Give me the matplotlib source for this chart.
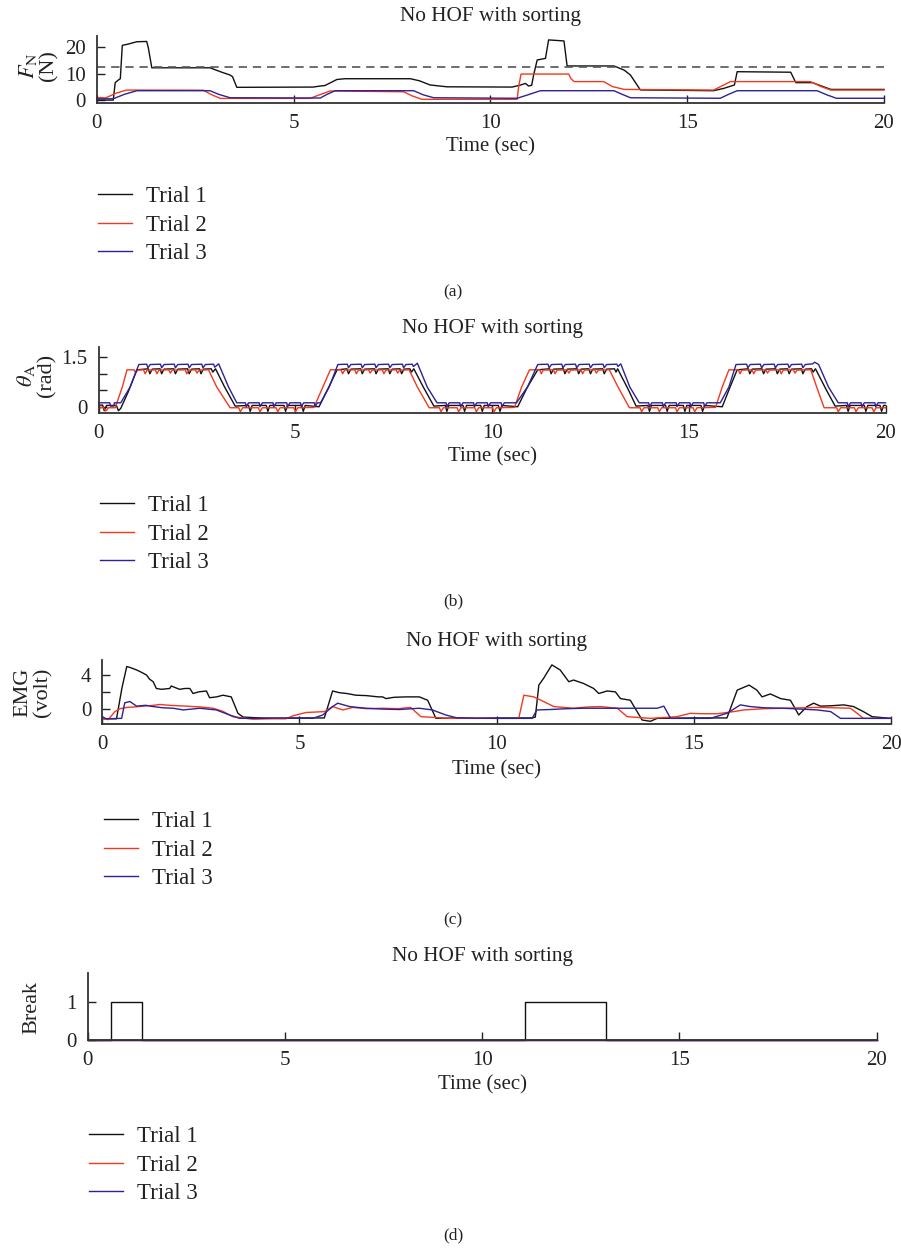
"""Four stacked trial traces (force, angle, EMG, break) for the 'No HOF with sorting' run."""
import matplotlib
matplotlib.use("Agg")
import matplotlib.pyplot as plt
import numpy as np

plt.rcParams["font.family"] = ["Liberation Serif", "DejaVu Serif"]
plt.rcParams["mathtext.fontset"] = "stix"

W, H = 901, 1248

TRIALS = ["Trial 1", "Trial 2", "Trial 3"]
COLORS = ["#111111", "#f2391d", "#2b2296"]
TITLE = "No HOF with sorting"

# ---- (a) normal force, N : (time, value) knots
T1_FORCE = [
    (0.00, -0.2), (0.42, -0.2), (0.47, 6.5), (0.55, 7.5), (0.60, 8.0), (0.65, 20.8), (0.80, 21.3),
    (1.02, 22.2), (1.27, 22.3), (1.31, 20.0), (1.40, 12.2), (2.88, 12.2), (3.14, 10.7), (3.39, 9.4),
    (3.45, 8.8), (3.56, 4.7), (5.50, 4.8), (5.68, 5.2), (5.80, 5.4), (6.10, 7.7), (6.30, 8.0),
    (7.97, 8.0), (8.20, 7.2), (8.47, 5.6), (8.90, 4.9), (10.55, 4.8), (10.75, 5.5), (10.89, 6.2),
    (10.97, 5.2), (11.05, 5.5), (11.10, 9.5), (11.19, 15.2), (11.40, 15.8), (11.48, 22.9),
    (11.87, 22.5), (11.95, 12.9), (13.14, 12.9), (13.40, 11.3), (13.56, 9.4), (13.81, 3.7),
    (15.67, 3.4), (15.93, 4.3), (16.20, 5.6), (16.27, 10.7), (17.63, 10.5), (17.76, 6.5),
    (18.18, 6.5), (18.45, 5.0), (18.65, 3.9), (20.00, 3.9),
]
T2_FORCE = [
    (0.00, 0.6), (0.10, 0.8), (0.20, 0.6), (0.25, 0.8), (0.50, 2.5), (0.76, 3.65), (2.71, 3.6),
    (2.90, 2.0), (3.14, 0.45), (5.42, 0.45), (5.60, 1.5), (5.93, 3.3), (7.80, 3.0), (8.00, 1.5),
    (8.26, 0.1), (10.68, 0.1), (10.72, 5.0), (10.78, 9.8), (11.99, 9.8), (12.05, 8.0), (12.13, 6.9),
    (12.88, 6.9), (13.10, 5.0), (13.40, 3.9), (15.67, 3.65), (15.85, 5.0), (16.10, 6.9),
    (18.13, 6.9), (18.40, 5.0), (18.65, 3.65), (20.00, 3.65),
]
T3_FORCE = [
    (0.00, 0.3), (0.42, 0.3), (0.70, 2.0), (1.02, 3.4), (2.88, 3.4), (3.10, 2.0), (3.39, 0.7),
    (5.68, 0.6), (5.85, 2.0), (6.06, 3.4), (8.05, 3.4), (8.30, 1.8), (8.56, 0.7), (10.68, 0.5),
    (10.95, 1.8), (11.27, 3.4), (13.14, 3.4), (13.35, 2.0), (13.56, 0.7), (15.84, 0.5),
    (16.05, 2.0), (16.27, 3.4), (18.30, 3.4), (18.55, 1.8), (18.79, 0.5), (20.00, 0.5),
]
FORCE_LIMIT = 12.6

# ---- (b) ankle angle, rad
T1_THETA = [
    (0.00, 0.05), (0.10, 0.05), (0.14, -0.12), (0.20, 0.04), (0.45, 0.04), (0.50, -0.12), (0.56, -0.05),
    (0.75, 0.45), (0.97, 1.12),
    (1.26, 1.15), (1.30, 1.00), (1.36, 1.14), (1.56, 1.15), (1.60, 1.00), (1.66, 1.14),
    (1.91, 1.15), (1.95, 1.00), (2.01, 1.14), (2.26, 1.15), (2.30, 1.00), (2.36, 1.14),
    (2.56, 1.15), (2.60, 1.00), (2.66, 1.14), (2.86, 1.15), (2.90, 1.05), (2.97, 1.15),
    (3.20, 0.60), (3.47, 0.02),
    (3.81, 0.04), (3.85, -0.14), (3.90, 0.04), (4.26, 0.04), (4.30, -0.14), (4.35, 0.04),
    (4.71, 0.04), (4.75, -0.14), (4.80, 0.04), (5.16, 0.04), (5.20, -0.14), (5.25, 0.04), (5.60, 0.00),
    (5.85, 0.60), (6.06, 1.12),
    (6.31, 1.15), (6.35, 1.00), (6.41, 1.14), (6.66, 1.15), (6.70, 1.00), (6.76, 1.14),
    (7.01, 1.15), (7.05, 1.00), (7.11, 1.14), (7.36, 1.15), (7.40, 1.00), (7.46, 1.14),
    (7.66, 1.15), (7.70, 1.00), (7.76, 1.14), (7.91, 1.15), (7.95, 1.05), (8.01, 1.15),
    (8.25, 0.60), (8.52, 0.02),
    (8.81, 0.04), (8.85, -0.14), (8.90, 0.04), (9.26, 0.04), (9.30, -0.14), (9.35, 0.04),
    (9.71, 0.04), (9.75, -0.14), (9.80, 0.04), (10.16, 0.04), (10.20, -0.14), (10.25, 0.04), (10.65, 0.00),
    (10.90, 0.60), (11.16, 1.12),
    (11.46, 1.15), (11.50, 1.00), (11.56, 1.14), (11.81, 1.15), (11.85, 1.00), (11.91, 1.14),
    (12.16, 1.15), (12.20, 1.00), (12.26, 1.14), (12.46, 1.15), (12.50, 1.00), (12.56, 1.14),
    (12.81, 1.15), (12.85, 1.00), (12.91, 1.14), (13.11, 1.15), (13.15, 1.05), (13.19, 1.15),
    (13.45, 0.55), (13.66, 0.02),
    (13.96, 0.04), (14.00, -0.14), (14.05, 0.04), (14.41, 0.04), (14.45, -0.14), (14.50, 0.04),
    (14.86, 0.04), (14.90, -0.14), (14.95, 0.04), (15.31, 0.04), (15.35, -0.14), (15.40, 0.04), (15.85, 0.00),
    (16.05, 0.60), (16.23, 1.12),
    (16.51, 1.15), (16.55, 1.00), (16.61, 1.14), (16.86, 1.15), (16.90, 1.00), (16.96, 1.14),
    (17.21, 1.15), (17.25, 1.00), (17.31, 1.14), (17.51, 1.15), (17.55, 1.00), (17.61, 1.14),
    (17.86, 1.15), (17.90, 1.00), (17.96, 1.14), (18.12, 1.15), (18.16, 1.05), (18.22, 1.15),
    (18.50, 0.50), (18.72, 0.02),
    (19.01, 0.04), (19.05, -0.14), (19.10, 0.04), (19.46, 0.04), (19.50, -0.14), (19.55, 0.04),
    (19.86, 0.04), (19.90, -0.14), (19.95, 0.04), (20.00, 0.04),
]
T2_THETA = [
    (0.00, -0.03), (0.12, -0.02), (0.18, -0.13), (0.25, -0.03), (0.42, -0.03),
    (0.60, 0.60), (0.72, 1.12),
    (0.90, 1.12), (0.94, 1.02), (0.99, 1.11), (1.14, 1.12), (1.18, 1.00), (1.23, 1.11),
    (1.44, 1.12), (1.48, 1.00), (1.53, 1.11), (1.78, 1.12), (1.82, 1.02), (1.87, 1.11),
    (2.20, 1.12), (2.24, 1.00), (2.29, 1.11), (2.46, 1.12), (2.50, 1.02), (2.55, 1.11), (2.79, 1.12),
    (3.00, 0.60), (3.34, -0.03),
    (3.56, -0.03), (3.60, -0.15), (3.66, -0.03), (4.06, -0.03), (4.10, -0.15), (4.16, -0.03),
    (4.51, -0.03), (4.55, -0.15), (4.61, -0.03), (4.96, -0.03), (5.00, -0.15), (5.06, -0.03), (5.47, -0.02),
    (5.70, 0.60), (5.89, 1.12),
    (6.16, 1.12), (6.20, 1.00), (6.25, 1.11), (6.51, 1.12), (6.55, 1.00), (6.60, 1.11),
    (6.86, 1.12), (6.90, 1.02), (6.95, 1.11), (7.21, 1.12), (7.25, 1.00), (7.30, 1.11),
    (7.56, 1.12), (7.60, 1.02), (7.65, 1.11), (7.89, 1.12),
    (8.10, 0.60), (8.40, -0.03),
    (8.66, -0.03), (8.70, -0.15), (8.76, -0.03), (9.11, -0.03), (9.15, -0.15), (9.21, -0.03),
    (9.56, -0.03), (9.60, -0.15), (9.66, -0.03), (10.01, -0.03), (10.05, -0.15), (10.11, -0.03), (10.57, -0.02),
    (10.75, 0.60), (10.95, 1.12),
    (11.21, 1.12), (11.25, 1.00), (11.30, 1.11), (11.56, 1.12), (11.60, 1.00), (11.65, 1.11),
    (11.91, 1.12), (11.95, 1.02), (12.00, 1.11), (12.26, 1.12), (12.30, 1.00), (12.35, 1.11),
    (12.61, 1.12), (12.65, 1.02), (12.70, 1.11), (12.98, 1.12),
    (13.20, 0.60), (13.49, -0.03),
    (13.76, -0.03), (13.80, -0.15), (13.86, -0.03), (14.21, -0.03), (14.25, -0.15), (14.31, -0.03),
    (14.66, -0.03), (14.70, -0.15), (14.76, -0.03), (15.11, -0.03), (15.15, -0.15), (15.21, -0.03), (15.68, -0.02),
    (15.85, 0.60), (16.02, 1.12),
    (16.26, 1.12), (16.30, 1.00), (16.35, 1.11), (16.61, 1.12), (16.65, 1.00), (16.70, 1.11),
    (16.96, 1.12), (17.00, 1.02), (17.05, 1.11), (17.31, 1.12), (17.35, 1.00), (17.40, 1.11),
    (17.66, 1.12), (17.70, 1.02), (17.75, 1.11), (18.10, 1.12),
    (18.25, 0.60), (18.44, -0.03),
    (18.76, -0.03), (18.80, -0.15), (18.86, -0.03), (19.21, -0.03), (19.25, -0.15), (19.31, -0.03),
    (19.66, -0.03), (19.70, -0.15), (19.76, -0.03), (20.00, -0.03),
]
T3_THETA = [
    (0.00, 0.12), (0.28, 0.12), (0.30, 0.02), (0.38, 0.02), (0.40, 0.12), (0.56, 0.12),
    (0.80, 0.60), (1.02, 1.28),
    (1.22, 1.29), (1.25, 1.18), (1.31, 1.28), (1.57, 1.29), (1.60, 1.18), (1.66, 1.28),
    (1.92, 1.29), (1.95, 1.18), (2.01, 1.28), (2.27, 1.29), (2.30, 1.18), (2.36, 1.28),
    (2.62, 1.29), (2.65, 1.18), (2.71, 1.28), (2.92, 1.29), (2.95, 1.20), (3.05, 1.30),
    (3.30, 0.60), (3.51, 0.12),
    (3.73, 0.12), (3.75, 0.00), (3.81, 0.12), (4.08, 0.12), (4.10, 0.00), (4.16, 0.12),
    (4.43, 0.12), (4.45, 0.00), (4.51, 0.12), (4.78, 0.12), (4.80, 0.00), (4.86, 0.12),
    (5.13, 0.12), (5.15, 0.00), (5.21, 0.12), (5.48, 0.12), (5.50, 0.00), (5.56, 0.12), (5.64, 0.12),
    (5.86, 0.60), (6.08, 1.28),
    (6.32, 1.29), (6.35, 1.18), (6.41, 1.28), (6.67, 1.29), (6.70, 1.18), (6.76, 1.28),
    (7.02, 1.29), (7.05, 1.18), (7.11, 1.28), (7.37, 1.29), (7.40, 1.18), (7.46, 1.28),
    (7.72, 1.29), (7.75, 1.18), (7.81, 1.28), (7.97, 1.29), (8.00, 1.22), (8.10, 1.32),
    (8.35, 0.60), (8.60, 0.12),
    (8.83, 0.12), (8.85, 0.00), (8.91, 0.12), (9.18, 0.12), (9.20, 0.00), (9.26, 0.12),
    (9.53, 0.12), (9.55, 0.00), (9.61, 0.12), (9.88, 0.12), (9.90, 0.00), (9.96, 0.12),
    (10.23, 0.12), (10.25, 0.00), (10.31, 0.12), (10.62, 0.12),
    (10.90, 0.60), (11.16, 1.28),
    (11.42, 1.29), (11.45, 1.18), (11.51, 1.28), (11.77, 1.29), (11.80, 1.18), (11.86, 1.28),
    (12.12, 1.29), (12.15, 1.18), (12.21, 1.28), (12.47, 1.29), (12.50, 1.18), (12.56, 1.28),
    (12.82, 1.29), (12.85, 1.18), (12.91, 1.28), (13.17, 1.29), (13.20, 1.22), (13.27, 1.30),
    (13.50, 0.60), (13.74, 0.12),
    (13.98, 0.12), (14.00, 0.00), (14.06, 0.12), (14.33, 0.12), (14.35, 0.00), (14.41, 0.12),
    (14.68, 0.12), (14.70, 0.00), (14.76, 0.12), (15.03, 0.12), (15.05, 0.00), (15.11, 0.12),
    (15.38, 0.12), (15.40, 0.00), (15.46, 0.12), (15.80, 0.12),
    (16.02, 0.60), (16.20, 1.28),
    (16.47, 1.29), (16.50, 1.18), (16.56, 1.28), (16.82, 1.29), (16.85, 1.18), (16.91, 1.28),
    (17.17, 1.29), (17.20, 1.18), (17.26, 1.28), (17.52, 1.29), (17.55, 1.18), (17.61, 1.28),
    (17.87, 1.29), (17.90, 1.18), (17.96, 1.28), (18.15, 1.30), (18.20, 1.35), (18.30, 1.28),
    (18.55, 0.60), (18.80, 0.12),
    (19.03, 0.12), (19.05, 0.00), (19.11, 0.12), (19.38, 0.12), (19.40, 0.00), (19.46, 0.12),
    (19.73, 0.12), (19.75, 0.00), (19.81, 0.12), (20.00, 0.12),
]

# ---- (c) EMG, volt
T1_EMG = [
    (0.00, -1.2), (0.36, -1.2), (0.50, 2.5), (0.62, 5.0), (0.70, 4.9), (0.87, 4.6), (1.00, 4.3),
    (1.12, 4.0), (1.20, 3.5), (1.29, 3.2), (1.37, 2.4), (1.50, 2.3), (1.71, 2.4), (1.75, 2.7),
    (1.85, 2.5), (1.96, 2.3), (2.10, 2.4), (2.22, 2.4), (2.30, 1.8), (2.45, 2.0), (2.64, 2.1),
    (2.72, 1.3), (2.90, 1.4), (3.06, 1.6), (3.27, 1.4), (3.44, -0.55), (3.57, -1.0), (4.00, -1.1),
    (4.50, -1.15), (5.00, -1.1), (5.63, -1.1), (5.84, 2.1), (6.01, 1.9), (6.20, 1.8), (6.43, 1.6),
    (6.70, 1.55), (7.00, 1.4), (7.11, 1.4), (7.19, 1.2), (7.40, 1.35), (7.70, 1.4), (8.04, 1.4),
    (8.25, 1.0), (8.46, -1.15), (9.00, -1.1), (9.50, -1.15), (10.00, -1.1), (10.90, -1.1),
    (10.98, -1.0), (11.07, 2.8), (11.19, 3.6), (11.40, 5.2), (11.61, 4.6), (11.83, 3.2),
    (11.95, 3.4), (12.20, 3.0), (12.46, 2.4), (12.59, 1.8), (12.80, 2.1), (13.01, 2.0),
    (13.14, 1.2), (13.39, 1.0), (13.69, -1.35), (13.90, -1.5), (14.07, -1.15), (15.00, -1.1),
    (15.84, -1.1), (16.10, 2.2), (16.40, 2.8), (16.60, 2.2), (16.73, 1.4), (16.94, 1.75),
    (17.20, 1.2), (17.45, 1.0), (17.66, -0.75), (17.87, 0.25), (18.04, 0.65), (18.21, 0.3),
    (18.50, 0.35), (18.80, 0.45), (19.05, 0.25), (19.30, -0.35), (19.52, -0.95), (20.00, -1.15),
]
T2_EMG = [
    (0.00, -1.15), (0.15, -1.3), (0.32, -0.35), (0.45, 0.0), (0.62, 0.15), (0.80, 0.2), (1.04, 0.3),
    (1.30, 0.4), (1.46, 0.5), (1.70, 0.4), (2.13, 0.3), (2.50, 0.2), (2.81, 0.05), (3.05, -0.3),
    (3.31, -0.95), (3.82, -1.25), (4.30, -1.2), (4.66, -1.2), (4.83, -0.85), (5.17, -0.45),
    (5.63, -0.35), (5.84, 0.25), (6.10, -0.15), (6.35, 0.15), (6.70, 0.0), (7.11, 0.05),
    (7.50, 0.0), (7.82, 0.15), (8.08, -0.95), (8.80, -1.15), (10.56, -1.15), (10.69, 1.6),
    (10.94, 1.4), (11.19, 0.85), (11.45, 0.25), (11.95, 0.05), (12.30, 0.2), (12.63, 0.25),
    (13.06, 0.05), (13.31, -0.95), (13.90, -1.15), (14.57, -0.95), (14.91, -0.55), (15.20, -0.6),
    (15.59, -0.6), (16.01, -0.35), (16.27, -0.15), (16.80, 0.0), (17.28, 0.05), (17.70, 0.1),
    (18.13, 0.15), (18.60, 0.1), (18.97, 0.05), (19.14, -0.55), (19.30, -1.15), (20.00, -1.15),
]
T3_EMG = [
    (0.00, -0.95), (0.10, -1.2), (0.49, -1.15), (0.57, 0.7), (0.70, 0.85), (0.87, 0.3), (1.10, 0.4),
    (1.29, 0.25), (1.55, 0.1), (1.80, 0.05), (2.05, -0.15), (2.47, 0.05), (2.89, -0.15),
    (3.23, -0.75), (3.48, -1.15), (4.00, -1.15), (4.50, -1.1), (5.34, -1.15), (5.59, -0.75),
    (5.84, 0.25), (5.97, 0.65), (6.27, 0.25), (6.69, 0.05), (7.10, -0.05), (7.53, -0.1),
    (8.04, 0.05), (8.37, -0.15), (8.71, -0.75), (9.00, -1.1), (10.00, -1.15), (10.90, -1.15),
    (11.02, -0.15), (11.36, -0.1), (11.80, 0.0), (12.20, 0.05), (13.00, 0.05), (13.60, 0.05),
    (14.07, 0.05), (14.24, 0.3), (14.41, -1.15), (15.42, -1.15), (15.84, -0.55), (16.18, 0.45),
    (16.43, 0.25), (16.80, 0.1), (17.28, 0.05), (17.70, -0.05), (18.13, -0.15), (18.47, -0.35),
    (18.72, -1.15), (20.00, -1.15),
]

# ---- (d) break flag (change points, held until the next one)
T1_BREAK = [(0.00, 0), (0.59, 1), (1.38, 0), (11.08, 1), (13.13, 0), (20.00, 0)]
T2_BREAK = [(0.00, 0), (20.00, 0)]
T3_BREAK = [(0.00, 0), (20.00, 0)]


def px_box(x0, y0, x1, y1):
    return [x0 / W, 1 - y1 / H, (x1 - x0) / W, (y1 - y0) / H]


def ftext(x, y, s, **kw):
    fig.text(x / W, 1 - y / H, s, ha="center", va="center", **kw)


fig = plt.figure(figsize=(W / 100, H / 100), dpi=100)

panels = [
    dict(series=[T1_FORCE, T2_FORCE, T3_FORCE], box=(96.7, 36, 884, 102.7), ylim=(-1.2, 24.4),
         yticks=[0, 10, 20], ylabels=["0", "10", "20"], ylabel="$F_{\\mathrm{N}}$\n(N)",
         ylab_xy=(38, 66), title_y=17, xlab_y=147, leg=(98, 186), cap=("(a)", 292), step=False),
    dict(series=[T1_THETA, T2_THETA, T3_THETA], box=(98.7, 346.7, 885.5, 412.7), ylim=(-0.18, 1.82),
         yticks=[0, 0.5, 1, 1.5], ylabels=["0", "", "", "1.5"], ylabel="$\\theta_{\\mathrm{A}}$\n(rad)",
         ylab_xy=(36, 375), title_y=328.5, xlab_y=457, leg=(100, 495), cap=("(b)", 601), step=False),
    dict(series=[T1_EMG, T2_EMG, T3_EMG], box=(102.3, 660, 891, 724), ylim=(-1.82, 5.78),
         yticks=[0, 2, 4], ylabels=["0", "", "4"], ylabel="EMG\n(volt)",
         ylab_xy=(33, 692), title_y=641.5, xlab_y=770, leg=(104, 811), cap=("(c)", 920), step=False),
    dict(series=[T1_BREAK, T2_BREAK, T3_BREAK], box=(87.7, 973.3, 876.5, 1040), ylim=(-0.01, 1.77),
         yticks=[0, 1], ylabels=["0", "1"], ylabel="Break",
         ylab_xy=(32, 1007), title_y=956.5, xlab_y=1085, leg=(89, 1126), cap=("(d)", 1235), step=True),
]

for p in panels:
    x0, y0, x1, y1 = p["box"]
    ax = fig.add_axes(px_box(x0, y0, x1, y1))
    handles = []
    for data, color, name in zip(p["series"], COLORS, TRIALS):
        arr = np.array(data, dtype=float)
        ln, = ax.plot(arr[:, 0], arr[:, 1], color=color, lw=1.0, label=name,
                      drawstyle="steps-post" if p["step"] else "default", clip_on=False)
        handles.append(ln)
    if p["series"][0] is T1_FORCE:
        ax.axhline(FORCE_LIMIT, color="#555555", lw=1.2, ls=(0, (5, 3.5)))

    ax.set_xlim(0, 20)
    ax.set_ylim(*p["ylim"])
    ax.set_xticks([0, 5, 10, 15, 20])
    ax.set_yticks(p["yticks"])
    ax.set_yticklabels(p["ylabels"])
    ax.tick_params(direction="in", length=6, width=1.0, labelsize=15, pad=8, colors="#222222")
    for s in ("top", "right"):
        ax.spines[s].set_visible(False)
    for s in ("left", "bottom"):
        ax.spines[s].set_linewidth(1.3)
        ax.spines[s].set_color("#333333")

    cx = (x0 + x1) / 2
    ftext(cx, p["title_y"], TITLE, fontsize=15.3, color="#222222")
    ftext(cx, p["xlab_y"], "Time (sec)", fontsize=15, color="#222222")
    ftext(p["ylab_xy"][0], p["ylab_xy"][1], p["ylabel"], fontsize=16, rotation=90,
          color="#222222", linespacing=1.0)

    lx, ly = p["leg"]
    ax.legend(handles=handles, loc="upper left", bbox_to_anchor=(lx / W, 1 - ly / H),
              bbox_transform=fig.transFigure, frameon=False, fontsize=16.5, borderpad=0,
              borderaxespad=0, handlelength=1.5, handletextpad=0.6, labelspacing=0.33,
              labelcolor="#222222")
    ftext(453, p["cap"][1], p["cap"][0], fontsize=12.5, color="#222222")

fig.savefig("out.png", dpi=100)
